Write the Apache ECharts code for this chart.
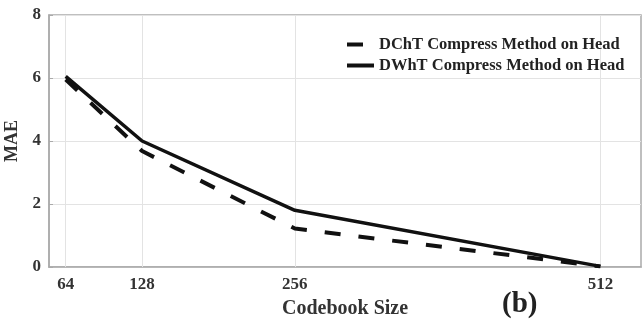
<!DOCTYPE html>
<html>
<head>
<meta charset="utf-8">
<script src="https://cdn.jsdelivr.net/npm/echarts@6/dist/echarts.min.js"></script>
<style>html,body{margin:0;padding:0;background:#fff}#c{width:643px;height:322px}</style>
</head>
<body>
<div id="c"></div>
<script>
var codebookSizes = [64, 128, 256, 512];
var dchtMAE = [5.95, 3.68, 1.22, 0.02];
var dwhtMAE = [6.05, 4.0, 1.8, 0.02];
var xTicks = [64, 128, 256, 512];
var seriesNames = ['DChT Compress Method on Head', 'DWhT Compress Method on Head'];

var font = 'Liberation Serif';
function pairs(xs, ys) { return xs.map(function (x, i) { return [x, ys[i]]; }); }

var chart = echarts.init(document.getElementById('c'));
chart.setOption({
  animation: false,
  backgroundColor: '#fff',
  grid: { left: 49, top: 15, right: 2, bottom: 55, show: true, borderColor: '#aaa', borderWidth: 1.5, outerBoundsMode: 'none', containLabel: false },
  legend: {
    orient: 'vertical', left: 340, top: 31, itemWidth: 27, itemHeight: 14, itemGap: 4,
    data: seriesNames,
    itemStyle: { opacity: 0 },
    lineStyle: { width: 4 },
    textStyle: { fontFamily: font, fontWeight: 'bold', fontSize: 16.5, color: '#222' }
  },
  xAxis: {
    type: 'value', min: 50, max: 546,
    name: 'Codebook Size', nameLocation: 'middle', nameGap: 32,
    nameTextStyle: { fontFamily: font, fontWeight: 'bold', fontSize: 20, color: '#333' },
    axisLine: { lineStyle: { color: '#aaa', width: 1.5 } },
    axisTick: { inside: true, length: 4, customValues: xTicks, lineStyle: { color: '#aaa' } },
    axisLabel: { customValues: xTicks, margin: 9, fontFamily: font, fontWeight: 'bold', fontSize: 17, color: '#333' },
    splitLine: { show: false }
  },
  yAxis: {
    type: 'value', min: 0, max: 8, interval: 2,
    name: 'MAE', nameLocation: 'middle', nameGap: 25,
    nameTextStyle: { fontFamily: font, fontWeight: 'bold', fontSize: 18, color: '#333' },
    axisLine: { show: true, lineStyle: { color: '#aaa', width: 1.5 } },
    axisTick: { inside: true, length: 4, lineStyle: { color: '#aaa' } },
    axisLabel: { margin: 8, fontFamily: font, fontWeight: 'bold', fontSize: 17, color: '#333' },
    splitLine: { show: true, lineStyle: { color: '#e3e3e3', width: 1 } }
  },
  graphic: [{
    type: 'text', left: 502, top: 290,
    style: { text: '(b)', fontFamily: font, fontWeight: 'bold', fontSize: 29, fill: '#222' }
  }],
  series: [
    {
      name: seriesNames[0], type: 'line', data: pairs(codebookSizes, dchtMAE),
      symbol: 'none', z: 3,
      lineStyle: { color: '#111', width: 4, type: [16, 18] },
      itemStyle: { color: '#111' },
      markLine: {
        silent: true, symbol: 'none', label: { show: false }, z: 1,
        lineStyle: { color: '#e3e3e3', width: 1, type: 'solid' },
        data: xTicks.map(function (v) { return { xAxis: v }; })
      }
    },
    {
      name: seriesNames[1], type: 'line', data: pairs(codebookSizes, dwhtMAE),
      symbol: 'none', z: 4,
      lineStyle: { color: '#111', width: 3.5, type: 'solid' },
      itemStyle: { color: '#111' }
    }
  ]
});
</script>
</body>
</html>
